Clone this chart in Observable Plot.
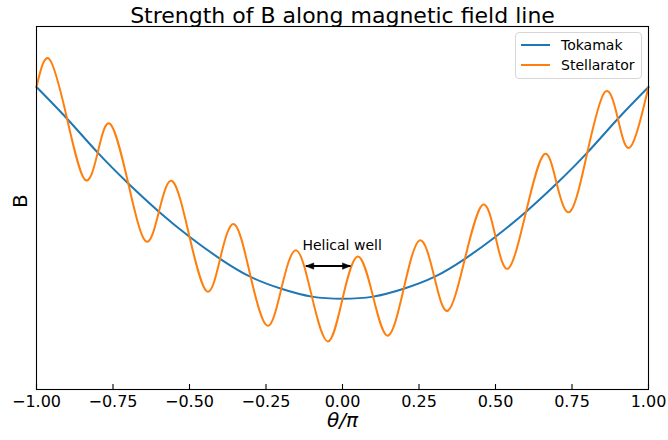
<!DOCTYPE html>
<html>
<head>
<meta charset="utf-8">
<script src="https://cdn.jsdelivr.net/npm/d3@7"></script>
<script src="https://cdn.jsdelivr.net/npm/@observablehq/plot@0.6"></script>
<style>
  body { margin: 0; background: #fff; font-family: "DejaVu Sans", sans-serif; }
  #chart { position: relative; width: 668px; height: 440px; }
  .legend {
    position: absolute; left: 515px; top: 32px; width: 127px; height: 47px;
    box-sizing: border-box; border: 1px solid #d6d6d6; border-radius: 4px;
    background: rgba(255,255,255,0.8); font-size: 14px; color: #000;
  }
  .legend .row { position: absolute; left: 0; height: 20px; display: flex; align-items: center; }
  .legend .sw { width: 29px; height: 2px; margin-left: 5px; margin-right: 11px; }
</style>
</head>
<body>
<div id="chart"></div>
<script>
// Field strength along the field line, theta in units of pi
const thetaTokamak = [-1.0, -0.9, -0.8, -0.7, -0.6, -0.5, -0.4, -0.3, -0.2, -0.1, 0.0,
                       0.1, 0.2, 0.3, 0.4, 0.5, 0.6, 0.7, 0.8, 0.9, 1.0];
const bTokamak = [1.000, 0.895, 0.783, 0.681, 0.588, 0.505, 0.432, 0.372, 0.333, 0.307, 0.300,
                  0.307, 0.333, 0.372, 0.432, 0.505, 0.588, 0.681, 0.783, 0.895, 1.000];

const thetaStellarator = [-1.0, -0.958, -0.9, -0.843, -0.8, -0.758, -0.7, -0.644, -0.6, -0.555,
                          -0.5, -0.444, -0.4, -0.353, -0.3, -0.246, -0.2, -0.151, -0.1, -0.048,
                           0.0, 0.050, 0.1, 0.149, 0.2, 0.252, 0.3, 0.345, 0.4, 0.457,
                           0.5, 0.543, 0.6, 0.658, 0.7, 0.745, 0.8, 0.857, 0.9, 0.941, 1.0];
const bStellarator = [1.000, 1.092, 0.895, 0.695, 0.783, 0.877, 0.681, 0.491, 0.588, 0.688,
                      0.505, 0.325, 0.432, 0.546, 0.372, 0.211, 0.333, 0.460, 0.307, 0.159,
                      0.300, 0.440, 0.307, 0.178, 0.333, 0.493, 0.372, 0.261, 0.432, 0.610,
                      0.505, 0.401, 0.588, 0.777, 0.681, 0.589, 0.783, 0.983, 0.895, 0.802, 1.000];

const xTicks = [-1.0, -0.75, -0.5, -0.25, 0.0, 0.25, 0.5, 0.75, 1.0];
const seriesNames = ["Tokamak", "Stellarator"];
const seriesColors = ["#1f77b4", "#ff7f0e"];

// Helical well annotation: span between neighbouring maxima and label anchor
const wellSpan = [-0.120, 0.026];
const wellLevel = 0.408;
const wellLabel = {text: "Helical well", theta: -0.131, b: 0.462};

const tokamak = thetaTokamak.map((t, i) => ({theta: t, b: bTokamak[i]}));
const stellarator = thetaStellarator.map((t, i) => ({theta: t, b: bStellarator[i]}));

const fmt = d => (d < 0 ? "\u2212" : "") + Math.abs(d).toFixed(2);

// Filled arrow heads with the tip at the anchor point
const headLeft = {draw(ctx) { ctx.moveTo(0, 0); ctx.lineTo(8, -3.2); ctx.lineTo(8, 3.2); ctx.closePath(); }};
const headRight = {draw(ctx) { ctx.moveTo(0, 0); ctx.lineTo(-8, -3.2); ctx.lineTo(-8, 3.2); ctx.closePath(); }};

const chart = Plot.plot({
  width: 668,
  height: 440,
  marginTop: 26,
  marginBottom: 51,
  marginLeft: 36,
  marginRight: 20,
  style: {fontFamily: "DejaVu Sans, sans-serif", background: "#fff", color: "#000"},
  x: {domain: [-1, 1]},
  y: {domain: [0, 1.2], axis: null},
  marks: [
    Plot.axisX({ticks: xTicks, tickSize: 0, tickPadding: 6, tickFormat: fmt, label: null, fontSize: 16}),
    Plot.axisX({ticks: xTicks, tickSize: -5, tickFormat: () => "", label: null, strokeWidth: 1.1}),
    Plot.line(tokamak, {x: "theta", y: "b", stroke: seriesColors[0], strokeWidth: 2, curve: "natural"}),
    Plot.line(stellarator, {x: "theta", y: "b", stroke: seriesColors[1], strokeWidth: 2, curve: "natural"}),
    Plot.link([wellSpan], {x1: d => d[0], x2: d => d[1], y1: wellLevel, y2: wellLevel, stroke: "#000", strokeWidth: 2}),
    Plot.dot([wellSpan[0]], {x: d => d, y: wellLevel, symbol: headLeft, fill: "#000", stroke: "#000", strokeWidth: 0.5}),
    Plot.dot([wellSpan[1]], {x: d => d, y: wellLevel, symbol: headRight, fill: "#000", stroke: "#000", strokeWidth: 0.5}),
    Plot.text([wellLabel], {x: "theta", y: "b", text: "text", textAnchor: "start", lineAnchor: "bottom", fontSize: 14, fill: "#000"}),
    Plot.frame({stroke: "#000", strokeWidth: 1.1}),
    Plot.text(["Strength of B along magnetic field line"], {frameAnchor: "top", dy: -19, fontSize: 22, fill: "#000"}),
    Plot.text(["\u03b8/\u03c0"], {frameAnchor: "bottom", dy: 37, fontSize: 20, fontStyle: "italic", fill: "#000"}),
    Plot.text(["B"], {frameAnchor: "left", dx: -16, rotate: -90, fontSize: 20, fill: "#000"})
  ]
});

const root = document.getElementById("chart");
root.appendChild(chart);

// Legend box in the upper right corner of the axes
const legend = document.createElement("div");
legend.className = "legend";
seriesNames.forEach((name, i) => {
  const row = document.createElement("div");
  row.className = "row";
  row.style.top = (2 + i * 20) + "px";
  const sw = document.createElement("span");
  sw.className = "sw";
  sw.style.background = seriesColors[i];
  const label = document.createElement("span");
  label.textContent = name;
  row.appendChild(sw);
  row.appendChild(label);
  legend.appendChild(row);
});
root.appendChild(legend);
</script>
</body>
</html>
